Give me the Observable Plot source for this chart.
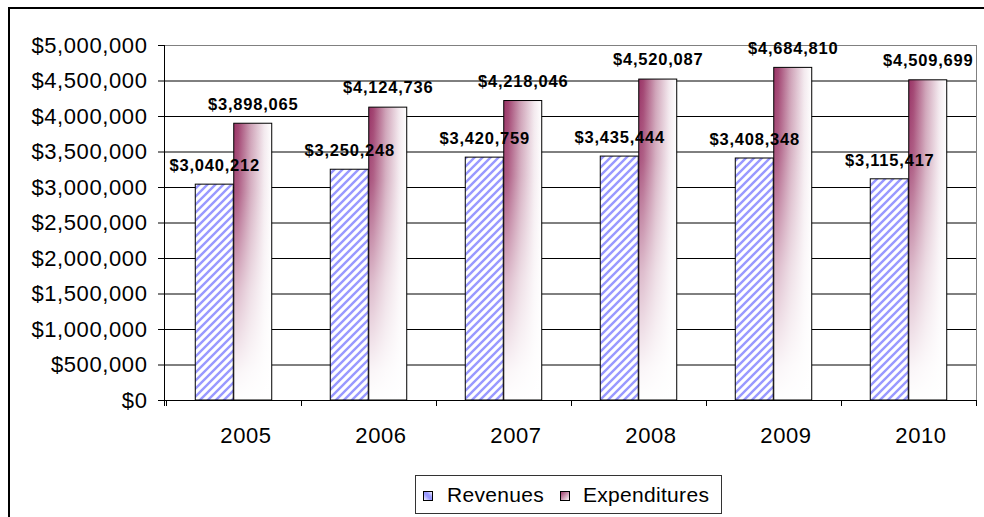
<!DOCTYPE html>
<html>
<head>
<meta charset="utf-8">
<script src="https://cdn.jsdelivr.net/npm/d3@7"></script>
<script src="https://cdn.jsdelivr.net/npm/@observablehq/plot@0.6"></script>
<style>
  html, body { margin: 0; padding: 0; background: #fff; overflow: hidden; }
  #wrap { position: relative; width: 984px; height: 517px; font-family: "Liberation Sans", Arial, sans-serif; }
  #border { position: absolute; left: 8px; top: 7px; width: 1000px; height: 600px; border-left: 2px solid #000; border-top: 2px solid #000; }
  #chart { position: absolute; left: 0; top: 0; width: 984px; }
  #legend { position: absolute; left: 415px; top: 475px; width: 305px; height: 37px; border: 1px solid #333; background: #fff; }
  #legend .sw { position: absolute; top: 15px; }
  #legend .lab { position: absolute; top: 0; line-height: 37px; font-size: 21px; letter-spacing: 0.3px; color: #000; white-space: nowrap; }
  #chart g[aria-label="y-axis tick label"] text,
  #chart g[aria-label="x-axis tick label"] text { letter-spacing: 0.6px; }
  #chart g[aria-label="text"] text { letter-spacing: 0.8px; }
</style>
</head>
<body>
<div id="wrap">
  <div id="border"></div>
  <div id="chart"></div>
  <div id="legend"></div>
</div>
<script>
// ---- data ----
const years = [2005, 2006, 2007, 2008, 2009, 2010];
const revenues = [3040212, 3250248, 3420759, 3435444, 3408348, 3115417];
const expenditures = [3898065, 4124736, 4218046, 4520087, 4684810, 4509699];
const seriesNames = ["Revenues", "Expenditures"];
const yTicks = [0, 500000, 1000000, 1500000, 2000000, 2500000, 3000000, 3500000, 4000000, 4500000, 5000000];

const rows = years.map((year, i) => ({year, revenue: revenues[i], expenditure: expenditures[i]}));
const money = d => "$" + d3.format(",")(d);

// ---- layout ----
const W = 984, H = 470;
const mL = 164, mR = 7, mT = 45, mB = 70;
const band = (W - mL - mR) / years.length;
const barW = band * 0.284;
const outer = (band - 2 * barW) / 2;

const NS = "http://www.w3.org/2000/svg";
function defsMark() {
  const d = document.createElementNS(NS, "defs");
  d.innerHTML = `
    <pattern id="hatch" patternUnits="userSpaceOnUse" width="8" height="8">
      <rect width="8" height="8" fill="#ffffff"/>
      <path d="M-2,2 L2,-2 M0,8 L8,0 M6,10 L10,6" stroke="#9999ff" stroke-width="2.4"/>
    </pattern>
    <linearGradient id="maroonH" x1="0" y1="0" x2="1" y2="0">
      <stop offset="0" stop-color="#993366"/>
      <stop offset="0.12" stop-color="#a24572"/>
      <stop offset="0.45" stop-color="#cfa3b8"/>
      <stop offset="0.8" stop-color="#f3e9ee"/>
      <stop offset="1" stop-color="#ffffff"/>
    </linearGradient>
    <linearGradient id="fadeV" x1="0" y1="0" x2="0" y2="1">
      <stop offset="0" stop-color="#ffffff" stop-opacity="0"/>
      <stop offset="0.25" stop-color="#ffffff" stop-opacity="0.15"/>
      <stop offset="0.6" stop-color="#ffffff" stop-opacity="0.65"/>
      <stop offset="0.9" stop-color="#ffffff" stop-opacity="0.95"/>
      <stop offset="1" stop-color="#ffffff" stop-opacity="1"/>
    </linearGradient>`;
  return d;
}

function furniture(index, scales, values, dims) {
  const g = document.createElementNS(NS, "g");
  const L = dims.marginLeft, R = dims.width - dims.marginRight;
  const T = dims.marginTop, B = dims.height - dims.marginBottom;
  const line = (x1, y1, x2, y2, c) => {
    const l = document.createElementNS(NS, "line");
    l.setAttribute("x1", x1); l.setAttribute("y1", y1);
    l.setAttribute("x2", x2); l.setAttribute("y2", y2);
    l.setAttribute("stroke", c); l.setAttribute("stroke-width", 1);
    g.appendChild(l);
  };
  const x = scales.x;
  const step = x(years[1]) - x(years[0]);
  const bounds = years.map(y => x(y)).concat([x(years[years.length - 1]) + step]);
  line(L, T + 0.5, R, T + 0.5, "#808080");
  line(R - 0.5, T, R - 0.5, B + 6, "#808080");
  bounds.forEach(b => line(Math.round(b) + 0.5, B, Math.round(b) + 0.5, B + 6, "#000"));
  line(L + 0.5, T, L + 0.5, B + 6, "#000");
  line(L, B + 0.5, R, B + 0.5, "#000");
  return g;
}

const chart = Plot.plot({
  width: W, height: H,
  marginLeft: mL, marginRight: mR, marginTop: mT, marginBottom: mB,
  style: {fontFamily: "'Liberation Sans', Arial, sans-serif", fontSize: "22px", color: "#000", background: "transparent"},
  x: {type: "band", domain: years, padding: 0, axis: null},
  y: {domain: [0, 5000000], axis: null},
  marks: [
    defsMark,
    Plot.ruleY(yTicks, {stroke: "#000", strokeWidth: 1}),
    Plot.barY(rows, {x: "year", y: "revenue", fill: "url(#hatch)", stroke: "#000", strokeWidth: 1,
      insetLeft: outer, insetRight: outer + barW}),
    Plot.barY(rows, {x: "year", y: "expenditure", fill: "url(#maroonH)",
      insetLeft: outer + barW, insetRight: outer}),
    Plot.barY(rows, {x: "year", y: "expenditure", fill: "url(#fadeV)", stroke: "#000", strokeWidth: 1,
      insetLeft: outer + barW, insetRight: outer}),
    furniture,
    Plot.axisY(yTicks, {tickFormat: money, tickSize: 6, tickPadding: 11, fontSize: 22, stroke: "#000", fill: "#000", label: null}),
    Plot.axisX({tickFormat: d => String(d), tickSize: 0, tickPadding: 27, dx: 12, fontSize: 22, fill: "#000", label: null}),
    Plot.text(rows, {x: "year", y: "revenue", text: d => money(d.revenue), dx: -barW / 2, dy: -19,
      fontSize: 16.5, fontWeight: "bold", fill: "#000"}),
    Plot.text(rows, {x: "year", y: "expenditure", text: d => money(d.expenditure), dx: barW / 2, dy: -19.5,
      fontSize: 16.5, fontWeight: "bold", fill: "#000"})
  ]
});
document.getElementById("chart").appendChild(chart);

// ---- legend ----
const legend = document.getElementById("legend");
legend.innerHTML = `
  <svg class="sw" style="left:7px" width="10" height="10">
    <defs>
      <linearGradient id="lgRev" x1="0" y1="1" x2="1" y2="0">
        <stop offset="0" stop-color="#ffffff"/>
        <stop offset="0.45" stop-color="#9999ff"/>
        <stop offset="0.6" stop-color="#9999ff"/>
        <stop offset="1" stop-color="#ffffff"/>
      </linearGradient>
      <linearGradient id="lgExp" x1="0" y1="0" x2="1" y2="1">
        <stop offset="0" stop-color="#993366"/>
        <stop offset="1" stop-color="#ffffff"/>
      </linearGradient>
    </defs>
    <rect x="0.5" y="0.5" width="9" height="9" fill="url(#lgRev)" stroke="#000"/>
  </svg>
  <span class="lab" style="left:31px">${seriesNames[0]}</span>
  <svg class="sw" style="left:144px" width="10" height="10">
    <rect x="0.5" y="0.5" width="9" height="9" fill="url(#lgExp)" stroke="#000"/>
  </svg>
  <span class="lab" style="left:167px">${seriesNames[1]}</span>`;
</script>
</body>
</html>
